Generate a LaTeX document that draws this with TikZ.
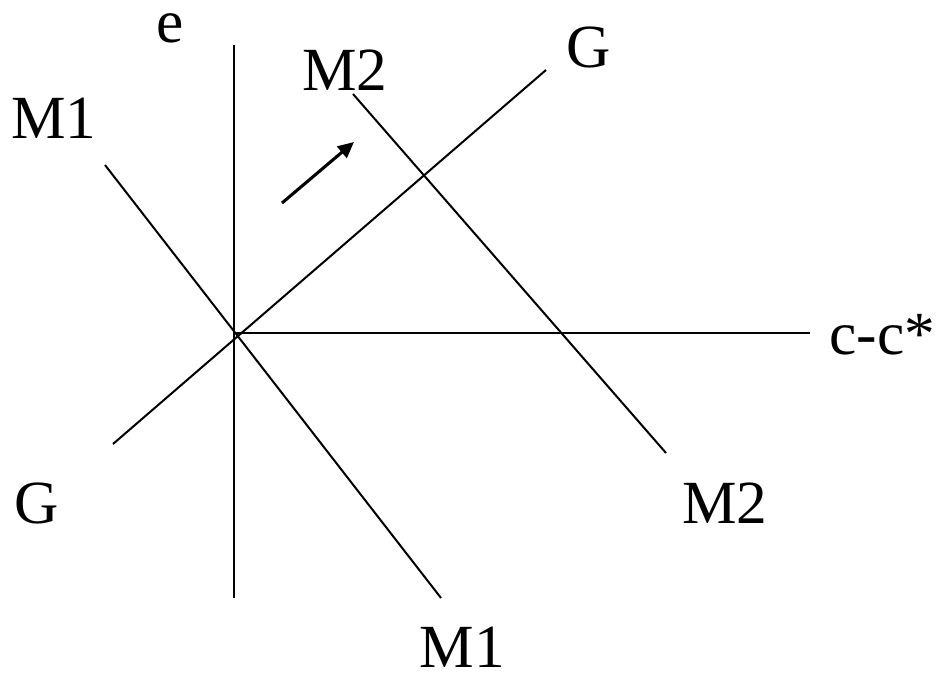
\documentclass[tikz,border=0pt]{standalone}
\usepackage{fontspec}
\setmainfont{Liberation Serif}
\usetikzlibrary{arrows.meta}
\begin{document}
\begin{tikzpicture}[x=0.75pt,y=-0.75pt,
  lbl/.style={font=\fontsize{46}{50}\selectfont, inner sep=0pt, anchor=base},
  curveline/.style={line width=1.5pt, line cap=butt},
  movearrow/.style={line width=2.3pt, -{Triangle[length=12pt,width=11pt]}}]
\useasboundingbox (0,0) rectangle (946,680);
% coordinates
\coordinate (ytop) at (234,45);
\coordinate (ybot) at (234,598);
\coordinate (xl) at (234,333);
\coordinate (xr) at (810,333);
\coordinate (g1) at (113,444);
\coordinate (g2) at (546,70);
\coordinate (m1a) at (105,165);
\coordinate (m1b) at (441,598);
\coordinate (m2a) at (353,94);
\coordinate (m2b) at (666,453);
\coordinate (ar1) at (282,203);
\coordinate (ar2) at (354,142);
% lines
\draw[curveline] (ytop) -- (ybot);
\draw[curveline] (xl) -- (xr);
\draw[curveline] (g1) -- (g2);
\draw[curveline] (m1a) -- (m1b);
\draw[curveline] (m2a) -- (m2b);
\draw[movearrow] (ar1) -- (ar2);
% labels
\node[lbl] (le) at (170.5,43) {e};
\node[lbl] (lm2t) at (345,91) {M2};
\node[lbl] (lgt) at (588.5,68) {G};
\node[lbl] (lm1l) at (54,139) {M1};
\node[lbl] (lc) at (882.5,355) {c-c*};
\node[lbl] (lgb) at (36.5,523) {G};
\node[lbl] (lm2b) at (725,523) {M2};
\node[lbl] (lm1b) at (462.5,667) {M1};
\end{tikzpicture}
\end{document}
